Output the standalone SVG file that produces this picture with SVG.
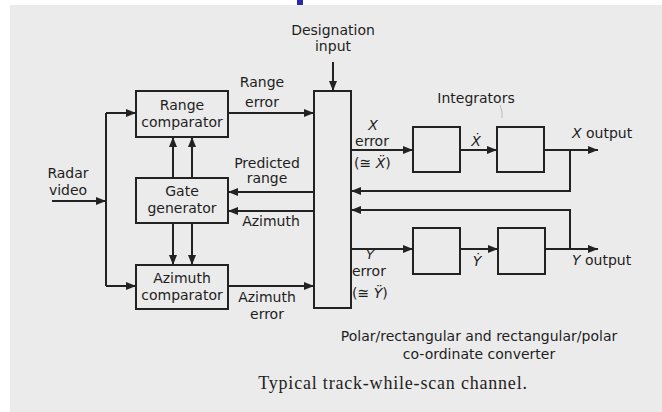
<svg xmlns="http://www.w3.org/2000/svg" width="662" height="412" viewBox="0 0 662 412">
<defs>
<marker id="ah" viewBox="0 0 10 8" refX="10" refY="4" markerWidth="10" markerHeight="8" markerUnits="userSpaceOnUse" orient="auto">
<path d="M0,0 L10,4 L0,8 z" fill="#222"/>
</marker>
<style>
.ln{stroke:#222;stroke-width:2;fill:none}
.ar{stroke:#222;stroke-width:2;fill:none;marker-end:url(#ah)}
.bx{stroke:#222;stroke-width:2;fill:none}
text{font-family:"DejaVu Sans","Liberation Sans",sans-serif;font-size:14px;fill:#1e1e1e}
.c{text-anchor:middle}
.i{font-style:italic}
.cap{font-family:"Liberation Serif","DejaVu Serif",serif;font-size:18px;letter-spacing:0.8px}
</style>
</defs>
<rect width="662" height="412" fill="#ffffff"/>
<rect x="10" y="5" width="652" height="407" fill="#ebebeb"/>
<rect x="297" y="0" width="6" height="5" fill="#2a2aa8"/>

<g id="range-comparator">
<rect class="bx" x="136" y="91" width="92" height="46"/>
<text class="c" x="182" y="110">Range</text>
<text class="c" x="182" y="127">comparator</text>
</g>
<g id="gate-generator">
<rect class="bx" x="136" y="178" width="92" height="45"/>
<text class="c" x="182" y="196">Gate</text>
<text class="c" x="182" y="213">generator</text>
</g>
<g id="azimuth-comparator">
<rect class="bx" x="136" y="265" width="92" height="44"/>
<text class="c" x="182" y="283">Azimuth</text>
<text class="c" x="182" y="300">comparator</text>
</g>
<g id="converter">
<rect class="bx" x="314" y="91" width="37" height="217"/>
<text class="c" x="479" y="341">Polar/rectangular and rectangular/polar</text>
<text class="c" x="479" y="359">co-ordinate converter</text>
</g>
<g id="int-x1"><rect class="bx" x="413" y="127" width="47" height="45"/></g>
<g id="int-x2"><rect class="bx" x="497" y="127" width="47" height="45"/></g>
<g id="int-y1"><rect class="bx" x="413" y="228" width="47" height="46"/></g>
<g id="int-y2"><rect class="bx" x="498" y="228" width="47" height="46"/></g>
<g id="integrators-label">
<text class="c" x="476" y="103">Integrators</text>
<path d="M500,105 Q503,112 502,118" stroke="#bbb" stroke-width="1" fill="none"/>
</g>
<g id="designation-input">
<text class="c" x="333" y="35">Designation</text>
<text class="c" x="333" y="51">input</text>
</g>
<g id="radar-video">
<text class="c" x="68" y="178">Radar</text>
<text class="c" x="68" y="195">video</text>
</g>

<g id="connectors">
<path class="ar" d="M333,62 L333,91"/>
<path class="ar" d="M52,201 L106,201"/>
<path class="ln" d="M106,113 L106,286"/>
<path class="ar" d="M106,113 L136,113"/>
<path class="ar" d="M106,286 L136,286"/>
<path class="ar" d="M173,178 L173,137"/>
<path class="ar" d="M192,178 L192,137"/>
<path class="ar" d="M173,223 L173,265"/>
<path class="ar" d="M192,223 L192,265"/>
<path class="ar" d="M228,113 L314,113"/>
<path class="ar" d="M314,192 L228,192"/>
<path class="ar" d="M314,211 L228,211"/>
<path class="ar" d="M228,286 L314,286"/>
<path class="ar" d="M351,150 L413,150"/>
<path class="ar" d="M460,150 L497,150"/>
<path class="ar" d="M544,150 L598,150"/>
<path class="ar" d="M570,150 L570,191 L351,191"/>
<path class="ar" d="M351,249 L413,249"/>
<path class="ar" d="M460,249 L498,249"/>
<path class="ar" d="M545,249 L598,249"/>
<path class="ar" d="M570,249 L570,210 L351,210"/>
</g>

<g id="labels">
<text class="c" x="262" y="87">Range</text>
<text class="c" x="262" y="107">error</text>
<text class="c" x="267" y="168">Predicted</text>
<text class="c" x="267" y="183">range</text>
<text class="c" x="271" y="226">Azimuth</text>
<text class="c" x="267" y="302">Azimuth</text>
<text class="c" x="267" y="319">error</text>
<text class="c i" x="373" y="130">X</text>
<text class="c" x="372" y="146">error</text>
<text x="354" y="168">(≅ <tspan class="i">Ẍ</tspan>)</text>
<text class="c i" x="476" y="146">Ẋ</text>
<text x="572" y="138"><tspan class="i">X</tspan> output</text>
<text class="c i" x="370" y="259" style="font-size:13px">Y</text>
<text x="352" y="276">error</text>
<text x="352" y="298">(≅ <tspan class="i">Ÿ</tspan>)</text>
<text class="c i" x="477" y="266">Ẏ</text>
<text x="572" y="265"><tspan class="i">Y</tspan> output</text>
</g>
<text class="cap" x="393" y="389" text-anchor="middle">Typical track-while-scan channel.</text>
</svg>
